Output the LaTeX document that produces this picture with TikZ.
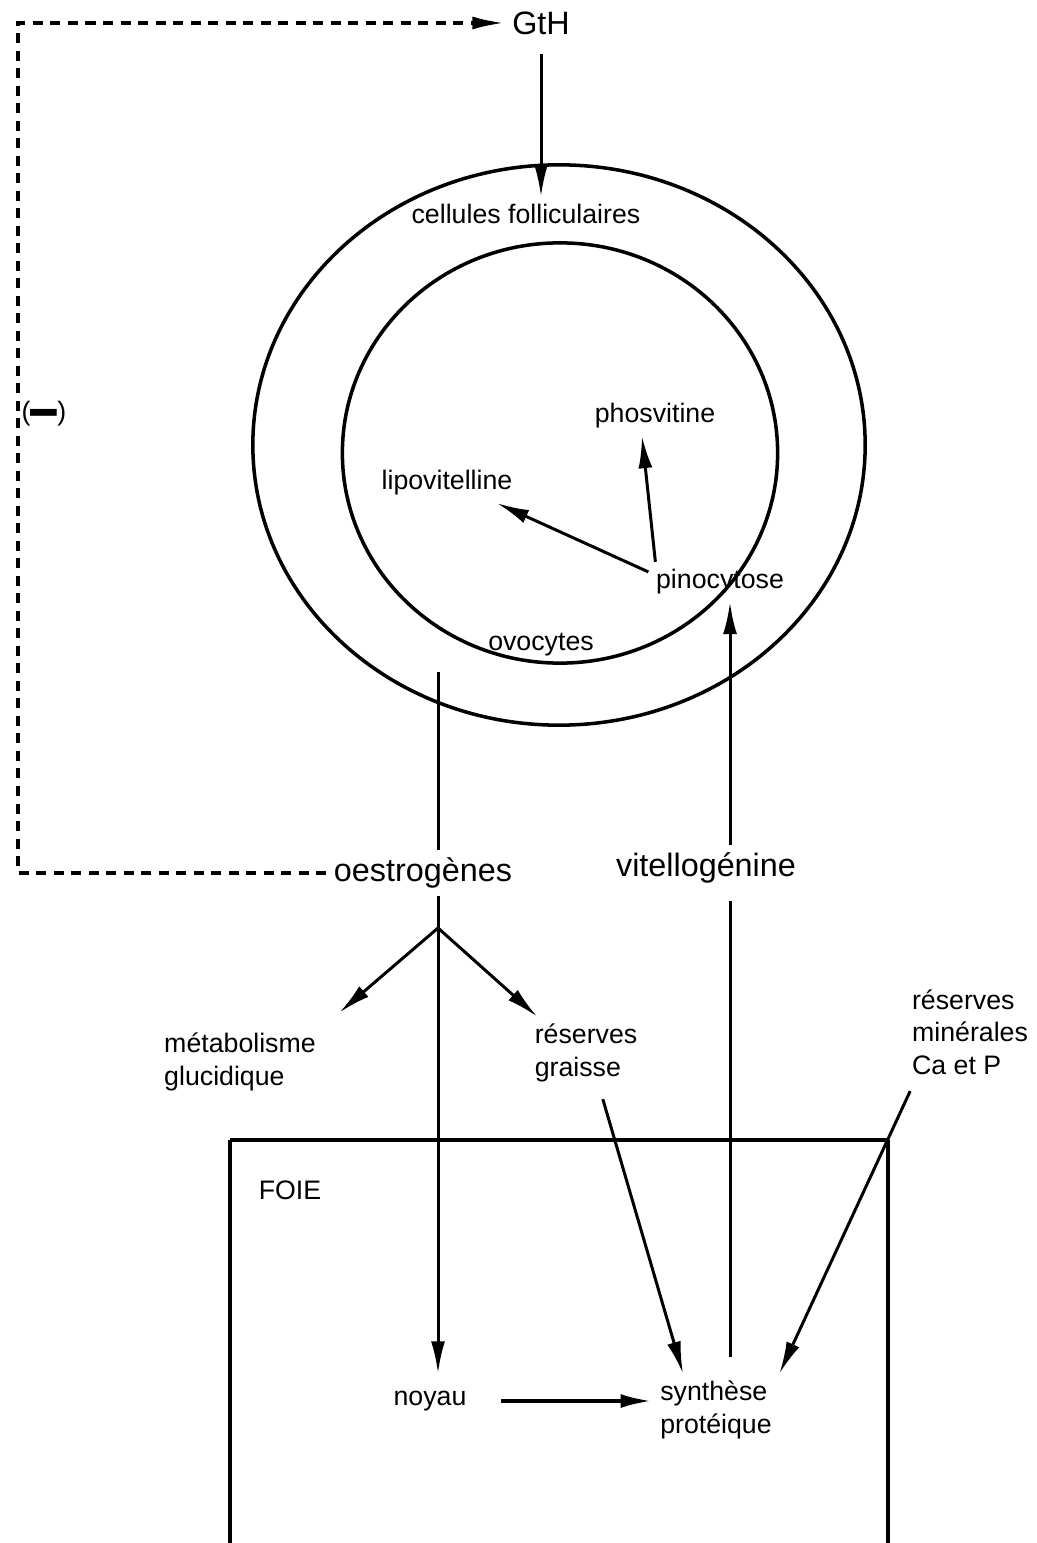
\documentclass[tikz,border=0pt]{standalone}
\usepackage{fontspec}
\usepackage{graphicx}
\setmainfont{Liberation Sans}
\usetikzlibrary{arrows.meta,shapes.geometric}

\tikzset{
  lbl/.style={inner sep=2pt, font=\fontsize{7.6}{9.2}\selectfont, align=left},
  biglbl/.style={inner sep=2pt, font=\fontsize{9.2}{11}\selectfont},
  fleche/.style={line width=0.85pt, -{Latex[length=0.32cm,width=0.14cm]}},
  retro/.style={line width=1pt, dash pattern=on 0.1cm off 0.075cm, -{Latex[length=0.32cm,width=0.13cm]}},
  cell/.style={draw, ellipse, line width=1pt, inner sep=0pt},
}

\begin{document}
\begin{tikzpicture}[x=0.01cm, y=-0.01cm]
\useasboundingbox (0,0) rectangle (1037,1543);

% Nodes
\node[biglbl] (gth) at (541,23) {GtH};
\node[cell, minimum width=6.12cm, minimum height=5.6cm] (follic) at (559,445) {};
\node[cell, minimum width=4.35cm, minimum height=4.2cm] (ovocyt) at (560,453) {};
\node[lbl] (cellules) at (526,214) {cellules folliculaires};
\node[lbl] (phos) at (655,416) {phosvitine};
\node[lbl] (lipo) at (447,483) {lipovitelline};
\node[lbl] (pino) at (720,582) {pinocytose};
\node[lbl] (ovo) at (541,645) {ovocytes};
\node[lbl] (moins) at (44,416) {(\raisebox{-0.4em}{\textbf{\scalebox{1}[2.6]{—}}})};
\node[biglbl] (oestro) at (423,873) {oestrogènes};
\node[biglbl] (vitello) at (706,868) {vitellogénine};
\node[lbl] (meta) at (240,1062) {métabolisme\\glucidique};
\node[lbl] (graisse) at (586,1053) {réserves\\graisse};
\node[lbl] (mineral) at (970,1032) {réserves\\minérales\\Ca et P};
\node[lbl] (foie) at (290,1190) {FOIE};
\node[lbl] (noyau) at (430,1401) {noyau};
\node[lbl] (synth) at (716,1410) {synthèse\\protéique};

% Coordinates
\coordinate (tl) at (18,23);
\coordinate (bl) at (18,873);
\coordinate (ostop) at (438,672);
\coordinate (split) at (438,928);
\coordinate (vbot) at (730,1357);

% Liver box
\draw[line width=1pt] (230,1543) -- (230,1140);
\draw[line width=1pt] (888,1140) -- (888,1543);
\draw[line width=1.3pt] (230,1140) -- (888,1140);

% Edges
\draw[retro] (oestro.west) -- (bl) -- (tl) -- (gth.west);
\draw[fleche, shorten <=0.12cm] (gth.south) -- (gth.south |- cellules.north);
\draw[fleche] ([xshift=0.07cm]pino.north west) -- ([xshift=-0.13cm]phos.south);
\draw[fleche] (pino.172) -- ([xshift=0.5cm]lipo.south);
\draw[line width=0.85pt] (ostop) -- (ostop |- oestro.north);
\draw[line width=0.85pt] (split |- oestro.south) -- (split);
\draw[fleche, shorten >=0.1cm] (split) -- (split |- noyau.north);
\draw[fleche] (split) -- ([shift={(0.16cm,0.13cm)}]meta.north east);
\draw[fleche] (split) -- ([xshift=0.1cm]graisse.north west);
\draw[fleche, shorten <=0.1cm] ([xshift=0.14cm]graisse.south) -- ([xshift=-0.33cm]synth.north);
\draw[fleche, shorten <=0.1cm] ([xshift=0.1cm]mineral.south west) -- (synth.north east);
\draw[line width=0.85pt, shorten >=0.1cm] (vbot) -- (vbot |- vitello.south);
\draw[fleche] (vbot |- vitello.north) -- (vbot |- pino.south);
\draw[fleche, line width=1.2pt, shorten <=0.27cm] (noyau.east) -- (noyau.east -| synth.west);

\end{tikzpicture}
\end{document}
